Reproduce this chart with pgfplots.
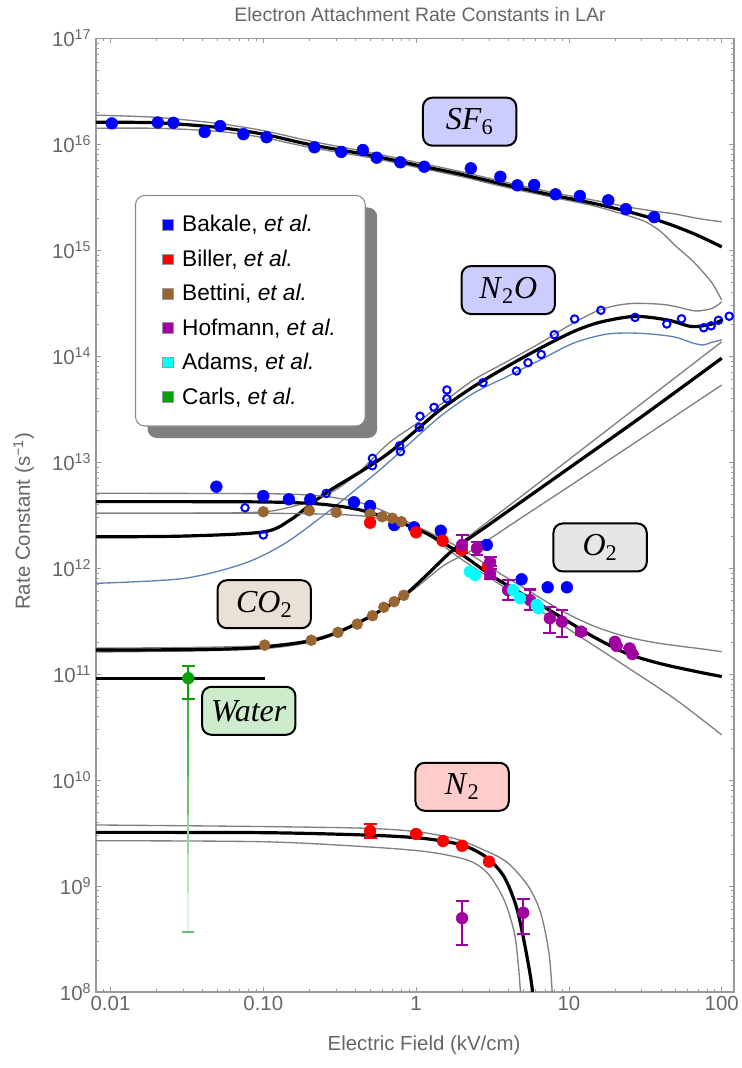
\documentclass[border=0pt]{standalone}
\usepackage{fontspec}
\setmainfont{Liberation Sans}
\newfontfamily\serifit{Liberation Serif}
\usepackage{pgfplots}
\pgfplotsset{compat=1.18}
\usetikzlibrary{shadows}

\definecolor{bakale}{RGB}{0,0,255}
\definecolor{biller}{RGB}{255,0,0}
\definecolor{bettini}{RGB}{153,102,51}
\definecolor{hofmann}{RGB}{160,0,160}
\definecolor{adams}{RGB}{0,255,255}
\definecolor{carls}{RGB}{10,160,10}
\definecolor{fitgray}{RGB}{128,128,128}
\definecolor{n2oblue}{RGB}{95,130,180}
\definecolor{boxsf}{RGB}{204,204,255}
\definecolor{boxo}{RGB}{230,230,230}
\definecolor{boxco}{RGB}{233,224,214}
\definecolor{boxw}{RGB}{204,236,204}
\definecolor{boxn}{RGB}{255,204,204}
\definecolor{fadeA}{RGB}{60,180,60}
\definecolor{fadeB}{RGB}{75,186,75}
\definecolor{fadeC}{RGB}{105,198,105}
\definecolor{fadeD}{RGB}{145,214,145}
\definecolor{fadeE}{RGB}{185,230,185}
\definecolor{fadeF}{RGB}{222,244,222}
\definecolor{fadecap}{RGB}{100,195,100}

\pgfplotsset{
  fitblack/.style={black, line width=2.4pt, smooth, tension=0.5},
  fitg/.style={fitgray, line width=1.0pt, smooth, tension=0.5},
  dots/.style={only marks, mark=*, mark size=4.4pt, color=#1, mark options={solid, fill=#1, draw=#1}},
  errs/.style={only marks, mark=*, mark size=4.4pt, color=#1, mark options={solid, fill=#1, draw=#1},
     error bars/.cd, y dir=both, y explicit,
     error bar style={line width=1.6pt, #1},
     error mark=-,
     error mark options={rotate=90, line width=1.6pt, mark size=4.8pt, #1}},
}
\tikzset{
  lbl/.style={draw=black, line width=1.5pt, rounded corners=7pt, fill=#1,
     minimum width=70pt, minimum height=36pt, inner sep=0pt,
     font=\serifit\fontsize{24}{24}\selectfont},
}

\begin{document}
\begin{tikzpicture}
\useasboundingbox (0,0) rectangle (556.5pt,801pt);
\begin{axis}[
  at={(72pt,57pt)}, anchor=south west,
  scale only axis, width=478.5pt, height=715.125pt,
  xmode=log, ymode=log,
  xmin=0.008036, xmax=120.36, ymin=1e8, ymax=1e17,
  xtick={0.01,0.1,1,10,100}, xticklabels={0.01,0.10,1,10,100},
  minor xtick={0.009,0.02,0.03,0.04,0.05,0.06,0.07,0.08,0.09,0.2,0.3,0.4,0.5,0.6,0.7,0.8,0.9,2,3,4,5,6,7,8,9,20,30,40,50,60,70,80,90},
  ytick={1e8,1e9,1e10,1e11,1e12,1e13,1e14,1e15,1e16,1e17},
  yticklabels={10\textsuperscript{8},10\textsuperscript{9},10\textsuperscript{10},10\textsuperscript{11},10\textsuperscript{12},10\textsuperscript{13},10\textsuperscript{14},10\textsuperscript{15},10\textsuperscript{16},10\textsuperscript{17}},
  minor ytick={2e8,3e8,4e8,5e8,6e8,7e8,8e8,9e8,2e9,3e9,4e9,5e9,6e9,7e9,8e9,9e9,2e10,3e10,4e10,5e10,6e10,7e10,8e10,9e10,2e11,3e11,4e11,5e11,6e11,7e11,8e11,9e11,2e12,3e12,4e12,5e12,6e12,7e12,8e12,9e12,2e13,3e13,4e13,5e13,6e13,7e13,8e13,9e13,2e14,3e14,4e14,5e14,6e14,7e14,8e14,9e14,2e15,3e15,4e15,5e15,6e15,7e15,8e15,9e15,2e16,3e16,4e16,5e16,6e16,7e16,8e16,9e16},
  tick pos=both, tick align=inside,
  major tick length=3.6pt, minor tick length=2.2pt,
  axis line style={black!40, line width=0.8pt},
  every tick/.style={black!40, line width=0.6pt},
  tick label style={font=\fontsize{15.3}{17}\selectfont, text=black!60},
  legend cell align=left,
  legend style={at={(0.0611,0.8359)}, anchor=north west,
     draw=black!45, line width=0.8pt, fill=white, rounded corners=7pt,
     inner xsep=20pt, inner ysep=13pt, row sep=8pt,
     font=\fontsize{17}{20}\selectfont,
     drop shadow={shadow xshift=9pt, shadow yshift=-9pt, fill=black!50, opacity=1}},
]
% ---------- legend ----------
\addlegendimage{only marks, mark=square*, mark size=4pt, mark options={draw=black!40, fill=bakale, line width=0.4pt}}
\addlegendentry{\hspace{5pt}Bakale, \textit{et al.}}
\addlegendimage{only marks, mark=square*, mark size=4pt, mark options={draw=black!40, fill=biller, line width=0.4pt}}
\addlegendentry{\hspace{5pt}Biller, \textit{et al.}}
\addlegendimage{only marks, mark=square*, mark size=4pt, mark options={draw=black!40, fill=bettini, line width=0.4pt}}
\addlegendentry{\hspace{5pt}Bettini, \textit{et al.}}
\addlegendimage{only marks, mark=square*, mark size=4pt, mark options={draw=black!40, fill=hofmann, line width=0.4pt}}
\addlegendentry{\hspace{5pt}Hofmann, \textit{et al.}}
\addlegendimage{only marks, mark=square*, mark size=4pt, mark options={draw=black!40, fill=adams, line width=0.4pt}}
\addlegendentry{\hspace{5pt}Adams, \textit{et al.}}
\addlegendimage{only marks, mark=square*, mark size=4pt, mark options={draw=black!40, fill=carls, line width=0.4pt}}
\addlegendentry{\hspace{5pt}Carls, \textit{et al.}}

% ---------- SF6 fits ----------
\addplot[fitg] coordinates {(0.008036,1.89e16) (0.02,1.80e16) (0.05,1.58e16) (0.1,1.35e16) (0.2,1.08e16) (0.5,8.4e15) (1,6.8e15) (2,5.5e15) (4,4.35e15) (8,3.5e15) (15,2.95e15) (25,2.55e15) (36,2.35e15) (50,2.2e15) (70,2.0e15) (100,1.86e15)};
\addplot[fitg] coordinates {(0.008036,1.42e16) (0.02,1.42e16) (0.05,1.33e16) (0.1,1.16e16) (0.2,9.4e15) (0.5,7.5e15) (1,6.1e15) (2,4.95e15) (4,3.9e15) (8,3.15e15) (15,2.6e15) (25,2.1e15) (32,1.85e15) (40,1.5e15) (50,1.1e15) (63.7,8.1e14) (75,6.3e14) (86.7,4.9e14) (100,3.4e14)};
\addplot[fitblack] coordinates {(0.008036,1.62e16) (0.02,1.60e16) (0.05,1.45e16) (0.1,1.25e16) (0.2,1.0e16) (0.5,7.9e15) (1,6.4e15) (2,5.2e15) (4,4.1e15) (8,3.3e15) (15,2.75e15) (25,2.3e15) (36,1.98e15) (50,1.68e15) (70,1.38e15) (100,1.08e15)};

% ---------- N2O fits ----------
\addplot[fitg] coordinates {(0.008036,3.3e12) (0.0748,3.34e12) (0.139,3.67e12) (0.258,4.91e12) (0.4,7.5e12) (0.656,1.5e13) (1.0,2.3e13) (1.43,3.47e13) (2.37,5.97e13) (3.92,8.9e13) (6.47,1.33e14) (9.7,1.9e14) (14.6,2.6e14) (20,3.0e14) (27,3.16e14) (40,3.1e14) (50.4,2.94e14) (67.8,2.68e14) (86.7,2.84e14) (100,3.27e14)};
\addplot[n2oblue, line width=1.0pt, smooth, tension=0.5] coordinates {(0.008036,7.2e11) (0.03,8.0e11) (0.075,1.11e12) (0.139,1.72e12) (0.258,3.3e12) (0.399,5.47e12) (0.578,8.45e12) (0.9,1.49e13) (1.43,2.69e13) (2.37,4.48e13) (3.92,6.42e13) (6.47,9.22e13) (10.7,1.33e14) (17.7,1.62e14) (29.2,1.65e14) (48.2,1.53e14) (65.2,1.33e14) (75.9,1.28e14) (83.8,1.34e14) (100,1.43e14)};
\addplot[fitblack] coordinates {(0.008036,1.98e12) (0.03,2.01e12) (0.1,2.2e12) (0.15,2.85e12) (0.208,4.1e12) (0.275,5.47e12) (0.452,8.45e12) (0.656,1.21e13) (1.0,2.0e13) (1.43,3.11e13) (2.37,5.16e13) (3.92,7.98e13) (6.47,1.19e14) (10.7,1.71e14) (16,2.1e14) (27,2.38e14) (44.5,2.2e14) (63.7,1.91e14) (86.7,2.02e14) (100,2.2e14)};

% ---------- O2 fits ----------
\addplot[fitg] coordinates {(0.008036,5.1e12) (0.1,5.05e12) (0.2,4.9e12) (0.3,4.6e12) (0.5,3.9e12) (1,2.5e12) (1.94,1.55e12) (3.5,9.0e11) (5.3,6.3e11) (8.75,4.04e11) (14.5,2.85e11) (23.9,2.25e11) (39.4,1.95e11) (70,1.75e11) (100,1.63e11)};
\addplot[fitg] coordinates {(0.008036,3.3e12) (0.1,3.3e12) (0.3,3.22e12) (0.5,3.05e12) (0.8,2.65e12) (1.2,2.05e12) (1.94,1.24e12) (3.5,7.1e11) (8.75,3.0e11) (23.9,1.17e11) (50.5,5.7e10) (100,2.67e10)};
\addplot[fitblack] coordinates {(0.008036,4.25e12) (0.03,4.25e12) (0.1,4.22e12) (0.2,4.1e12) (0.3,3.88e12) (0.43,3.55e12) (0.71,2.85e12) (1.17,2.13e12) (1.94,1.38e12) (3.2,8.3e11) (5.3,5.4e11) (8.75,3.5e11) (14.5,2.25e11) (23.9,1.57e11) (39.4,1.26e11) (70,1.05e11) (100,9.5e10)};

% ---------- CO2 fits ----------
\addplot[fitg] coordinates {(0.008036,1.76e11) (0.1,1.86e11) (0.3,2.5e11) (0.83,5.6e11) (1.94,1.71e12) (5,4.9e12) (10,1.06e13) (30,3.6e13) (100,1.37e14)};
\addplot[fitg] coordinates {(0.008036,1.62e11) (0.1,1.74e11) (0.3,2.4e11) (0.83,5.4e11) (1.5,1.05e12) (2.35,1.49e12) (5,3.06e12) (10,5.9e12) (30,1.69e13) (100,5.36e13)};
\addplot[fitblack] coordinates {(0.008036,1.69e11) (0.03,1.70e11) (0.06,1.73e11) (0.1,1.80e11) (0.2,2.05e11) (0.3,2.45e11) (0.5,3.5e11) (0.83,5.5e11) (1.2,8.9e11) (1.75,1.49e12) (3,2.58e12) (10,8.8e12) (30,2.7e13) (100,9.6e13)};

% ---------- N2 fits ----------
\addplot[fitg] coordinates {(0.008036,3.77e9) (0.466,3.51e9) (1.59,2.92e9) (2.94,2.11e9) (4.01,1.64e9) (5.45,9.86e8) (6.55,5.53e8) (7.41,2.32e8) (7.78,9.8e7)};
\addplot[fitg] coordinates {(0.008036,2.68e9) (0.1,2.62e9) (0.466,2.35e9) (1.17,2.11e9) (2.16,1.76e9) (2.94,1.32e9) (3.77,7.38e8) (4.40,3.58e8) (4.68,1.73e8) (4.82,9.8e7)};
\addplot[fitblack] coordinates {(0.008036,3.21e9) (0.1,3.19e9) (0.466,3.03e9) (1.0,2.86e9) (1.59,2.62e9) (2.16,2.35e9) (2.94,1.83e9) (3.77,1.22e9) (4.53,6.38e8) (5.12,2.88e8) (5.61,1.39e8) (5.79,9.8e7)};

% ---------- Water ----------
\addplot[black, line width=2.2pt] coordinates {(0.008036,9.15e10) (0.103,9.15e10)};
\addplot[fadeA, line width=1.4pt] coordinates {(0.0323,5.82e10) (0.0323,2.51e10)};
\addplot[fadeB, line width=1.4pt] coordinates {(0.0323,2.51e10) (0.0323,1.08e10)};
\addplot[fadeC, line width=1.4pt] coordinates {(0.0323,1.08e10) (0.0323,4.65e9)};
\addplot[fadeD, line width=1.4pt] coordinates {(0.0323,4.65e9) (0.0323,2.0e9)};
\addplot[fadeE, line width=1.4pt] coordinates {(0.0323,2.0e9) (0.0323,8.61e8)};
\addplot[fadeF, line width=1.4pt] coordinates {(0.0323,8.61e8) (0.0323,3.71e8)};
\addplot[only marks, mark=-, mark size=4.5pt, color=fadecap, mark options={line width=1.5pt}] coordinates {(0.0323,3.71e8)};
\addplot[errs=carls] coordinates {(0.0323,9.15e10) += (0,2.75e10) -= (0,3.33e10)};

% ---------- data: Bakale ----------
\addplot[dots=bakale] coordinates {(0.0102,1.58e16) (0.0204,1.61e16) (0.0258,1.60e16) (0.0413,1.31e16) (0.0522,1.49e16) (0.0741,1.25e16) (0.105,1.17e16) (0.216,9.4e15) (0.324,8.5e15) (0.448,8.86e15) (0.552,7.5e15) (0.789,6.78e15) (1.13,6.16e15) (2.28,5.95e15) (3.56,4.95e15) (4.6,4.11e15) (5.93,4.14e15) (8.17,3.38e15) (11.8,3.26e15) (18.1,2.97e15) (23.6,2.45e15) (36.1,2.06e15)};
\addplot[only marks, mark=o, mark size=2.8pt, color=bakale, mark options={solid, line width=1.5pt, fill=white}] coordinates {(0.0759,3.72e12) (0.1,2.06e12) (0.258,5.08e12) (0.518,1.09e13) (0.518,9.27e12) (0.78,1.43e13) (0.79,1.26e13) (1.05,2.14e13) (1.06,2.72e13) (1.31,3.30e13) (1.59,3.98e13) (1.59,4.81e13) (2.74,5.64e13) (4.54,7.27e13) (5.40,8.71e13) (6.59,1.04e14) (8.02,1.60e14) (10.9,2.25e14) (16.2,2.72e14) (27.1,2.33e14) (43.7,2.02e14) (54.6,2.26e14) (76.3,1.86e14) (85.3,1.94e14) (95.3,2.19e14) (112,2.39e14)};
\addplot[dots=bakale] coordinates {(0.0493,5.88e12) (0.1,4.80e12) (0.147,4.47e12) (0.203,4.47e12) (0.392,4.19e12) (0.5,3.87e12) (0.72,2.56e12) (0.97,2.43e12) (1.45,2.26e12) (2.9,1.66e12) (4.9,7.86e11) (7.26,6.6e11) (9.7,6.6e11)};

% ---------- Bettini ----------
\addplot[dots=bettini, mark size=4.1pt] coordinates {(0.1,3.41e12) (0.2,3.49e12) (0.3,3.37e12) (0.5,3.24e12) (0.6,3.06e12) (0.7,2.96e12) (0.8,2.75e12)};
\addplot[dots=bettini, mark size=4.1pt] coordinates {(0.102,1.88e11) (0.206,2.09e11) (0.308,2.48e11) (0.412,2.97e11) (0.518,3.56e11) (0.615,4.28e11) (0.719,4.83e11) (0.83,5.55e11)};

% ---------- Biller ----------
\addplot[dots=biller] coordinates {(0.5,2.69e12) (1.0,2.18e12) (1.49,1.82e12) (1.99,1.49e12) (2.94,1.03e12)};
\addplot[errs=biller] coordinates {(0.5,3.31e9) += (0,0.55e9) -= (0,0.49e9) (1.0,3.10e9) += (0,0) -= (0,0) (1.5,2.66e9) += (0,0) -= (0,0) (2.0,2.40e9) += (0,0) -= (0,0) (3.0,1.70e9) += (0,0) -= (0,0)};

% ---------- Hofmann ----------
\addplot[errs=hofmann] coordinates {
 (2.0,1.66e12) += (0,0.40e12) -= (0,0.27e12)
 (2.5,1.54e12) += (0,0.24e12) -= (0,0.20e12)
 (3.05,1.14e12) += (0,0.14e12) -= (0,0.10e12)
 (3.05,8.8e11) += (0,1.0e11) -= (0,0.8e11)
 (4.0,6.2e11) += (0,1.5e11) -= (0,1.2e11)
 (5.56,5.0e11) += (0,1.3e11) -= (0,1.0e11)
 (7.5,3.37e11) += (0,0.96e11) -= (0,0.94e11)
 (9.0,3.13e11) += (0,0.91e11) -= (0,0.87e11)
 (12,2.52e11) += (0,0.15e11) -= (0,0.15e11)
 (20,2.02e11) += (0,0) -= (0,0)
 (20.5,1.85e11) += (0,0) -= (0,0)
 (25,1.75e11) += (0,0) -= (0,0)
 (26,1.55e11) += (0,0) -= (0,0)
 (2.0,4.97e8) += (0,2.31e8) -= (0,2.19e8)
 (5.03,5.6e8) += (0,2.0e8) -= (0,2.08e8)};

% ---------- Adams ----------
\addplot[dots=adams] coordinates {(2.25,9.27e11) (2.43,8.63e11) (4.32,6.22e11) (4.79,5.2e11) (6.15,4.5e11) (6.31,4.19e11)};

% ---------- labels ----------
\node[lbl=boxsf] at (axis cs:2.24,1.64e16) {\textit{SF}\textsubscript{6}};
\node[lbl=boxsf] at (axis cs:4.01,4.22e14) {\textit{N}\textsubscript{2}\textit{O}};
\node[lbl=boxo] at (axis cs:16.0,1.57e12) {\textit{O}\textsubscript{2}};
\node[lbl=boxco] at (axis cs:0.1014,4.57e11) {\textit{CO}\textsubscript{2}};
\node[lbl=boxw] at (axis cs:0.0803,4.51e10) {\textit{Water}};
\node[lbl=boxn] at (axis cs:2.0,8.65e9) {\textit{N}\textsubscript{2}};
\end{axis}
\node[font=\fontsize{14.6}{17}\selectfont, text=black!60, anchor=base] at (315pt,785pt) {Electron Attachment Rate Constants in LAr};
\node[font=\fontsize{15.3}{18}\selectfont, text=black!60, anchor=base] at (318pt,13pt) {Electric Field (kV/cm)};
\node[font=\fontsize{15.3}{18}\selectfont, text=black!60, anchor=base, rotate=90] at (22.5pt,410pt) {Rate Constant (s\textsuperscript{−1})};
\end{tikzpicture}
\end{document}
